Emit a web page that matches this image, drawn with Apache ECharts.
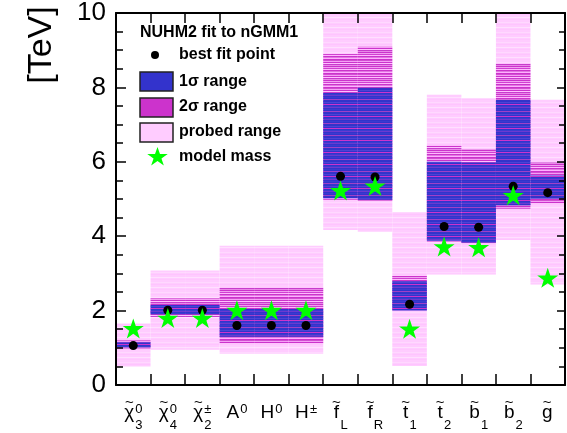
<!DOCTYPE html>
<html><head><meta charset="utf-8">
<script src="https://cdn.jsdelivr.net/npm/echarts@6/dist/echarts.min.js"></script>
<style>html,body{margin:0;padding:0;background:#fff}#c{width:567px;height:433px}</style>
</head><body><div id="c"></div>
<script>
// ---- data ----
const categories = ['chi3','chi4','chi2pm','A0','H0','Hpm','fL','fR','t1','t2','b1','b2','g'];
const labelBase  = ['χ','χ','χ','A','H','H','f','f','t','t','b','b','g'];
const labelTilde = [true,true,true,false,false,false,true,true,true,true,true,true,true];
const labelSup   = ['0','0','±','0','0','±','','','','','','',''];
const labelSub   = ['3','4','2','','','','L','R','1','2','1','2',''];
const yTicks = [0,2,4,6,8,10];

const probedLow  = [0.50,0.95,0.95,0.84,0.84,0.84,4.17,4.12,0.51,2.97,2.97,3.90,2.70];
const probedHigh = [1.65,3.08,3.08,3.74,3.74,3.74,10.0,10.0,4.65,7.80,7.71,9.97,7.67];
const sigma2Low  = [0.98,1.83,1.83,1.11,1.11,1.11,4.98,4.95,1.99,3.86,3.81,4.74,4.87];
const sigma2High = [1.20,2.33,2.33,2.63,2.63,2.63,8.90,9.09,2.93,6.43,6.34,8.64,5.98];
const sigma1Low  = [1.01,1.90,1.90,1.30,1.30,1.30,5.02,4.98,2.00,3.88,3.83,4.83,5.01];
const sigma1High = [1.15,2.15,2.15,2.05,2.05,2.05,7.85,8.00,2.79,6.00,5.98,7.67,5.63];
const bestFit    = [1.06,2.01,2.01,1.60,1.60,1.60,5.61,5.59,2.17,4.26,4.24,5.34,5.17];
const modelMass  = [1.52,1.80,1.80,2.01,2.01,2.01,5.23,5.35,1.51,3.72,3.70,5.10,2.88];

// ---- styling helpers ----
const FONT = '"Liberation Sans", Arial, Helvetica, sans-serif';
function stripePattern(rows){
  const c = document.createElement('canvas'); c.width = 4; c.height = rows.length;
  const x = c.getContext('2d');
  rows.forEach((col,k)=>{ x.fillStyle = col; x.fillRect(0,k,4,1); });
  return {image: c, repeat: 'repeat'};
}
const probedFill = stripePattern(['#ffccff','#ffccff','#ffd8ff','#ffccff','#ffc4ff','#ffccff','#ffccff','#ffe0ff','#ffccff','#ffc6ff']);
const sigma2Fill = stripePattern(['#cc33cc','#e07ae0','#ffb0ff','#cc33cc','#d24fd2','#f5a0f5','#cc33cc','#ffc0ff','#c83ccc','#e888e8','#cc33cc','#f0a0f0','#d040d0','#ffb8ff']);
const sigma1Fill = stripePattern(['#3333cc','#3a3ad0','#3333cc','#a040c8','#3535c8','#3333cc','#4a45d5','#3333cc','#cc33cc','#3333cc','#3c3cd0','#6a3ad0']);

const STAR = 'M50,0 L61.8,35.1 L98.9,35.1 L68.8,56.9 L80.2,91.9 L50,70.2 L19.8,91.9 L31.2,56.9 L1.1,35.1 L38.2,35.1 Z';
const STAR_PTS = [[50,0],[61.8,35.1],[98.9,35.1],[68.8,56.9],[80.2,91.9],[50,70.2],[19.8,91.9],[31.2,56.9],[1.1,35.1],[38.2,35.1]];

const BASE_PX = 19, SMALL_PX = 13;
const mctx = document.createElement('canvas').getContext('2d');
function tw(t, f){ mctx.font = f; return mctx.measureText(t).width; }
const rich = {};
labelBase.forEach((b,i)=>{
  const bw = Math.ceil(tw(b, BASE_PX + 'px ' + FONT)) + 1;
  const sw = Math.max(1, Math.ceil(Math.max(tw(labelSup[i], SMALL_PX + 'px ' + FONT), tw(labelSub[i], SMALL_PX + 'px ' + FONT))));
  rich['t'+i] = {fontSize:15, fontFamily:FONT, color:'#000', width:bw, align:'center', lineHeight:4};
  rich['q'+i] = {fontSize:12, fontFamily:FONT, width:sw, lineHeight:4};
  rich['b'+i] = {fontSize:BASE_PX, fontFamily:FONT, color:'#000', width:bw, align:'right', lineHeight:15};
  rich['u'+i] = {fontSize:SMALL_PX, fontFamily:FONT, color:'#000', width:sw, align:'left', lineHeight:8, padding:[0,0,6,0]};
  rich['p'+i] = {fontSize:SMALL_PX, fontFamily:FONT, width:bw, lineHeight:10};
  rich['d'+i] = {fontSize:SMALL_PX, fontFamily:FONT, color:'#000', width:sw, align:'left', lineHeight:10};
});

function band(lo, hi, fill, z, name){
  return {
    type:'custom', name, z,
    data: categories.map((c,i)=>[i, lo[i], hi[i]]),
    encode:{x:0, y:[1,2]},
    renderItem(params, api){
      const i = api.value(0);
      const a = api.coord([i, api.value(1)]);
      const b = api.coord([i, api.value(2)]);
      const w = api.size([1,0])[0];
      return {type:'rect', shape:{x:a[0]-w/2, y:b[1], width:w, height:a[1]-b[1]}, style:{fill}};
    }
  };
}

const axisLineStyle = {color:'#000', width:2};
const chart = echarts.init(document.getElementById('c'), null, {renderer:'canvas'});
chart.setOption({
  animation:false,
  textStyle:{fontFamily:FONT},
  grid:{left:116, right:2, top:9, bottom:48, containLabel:false},
  xAxis:[{
    type:'category', data:categories, position:'bottom', boundaryGap:true, z:10,
    axisLine:{show:true, onZero:false, lineStyle:axisLineStyle},
    axisTick:{show:true, inside:true, length:11, interval:0, lineStyle:{color:'#000', width:1.5}},
    axisLabel:{interval:0, margin:16, color:'#000', rich,
      formatter:(v,i)=>`{t${i}|${labelTilde[i]?'~':' '}}{q${i}| }\n{b${i}|${labelBase[i]}}{u${i}|${labelSup[i]||' '}}\n{p${i}| }{d${i}|${labelSub[i]||' '}}`},
    splitLine:{show:false}
  },{
    type:'category', data:categories, position:'top', boundaryGap:true, z:10,
    axisLine:{show:true, onZero:false, lineStyle:axisLineStyle},
    axisTick:{show:true, inside:true, length:10, interval:0, lineStyle:{color:'#000', width:1.5}},
    axisLabel:{show:false}, splitLine:{show:false}
  }],
  yAxis:[{
    type:'value', min:0, max:10, interval:2, position:'left', z:10,
    axisLine:{show:true, lineStyle:axisLineStyle},
    axisTick:{show:true, inside:true, length:10, lineStyle:{color:'#000', width:1.5}},
    minorTick:{show:true, splitNumber:4, length:7, lineStyle:{color:'#000', width:1.5}},
    axisLabel:{color:'#000', fontSize:26, fontFamily:FONT, margin:10,
      formatter:v=> yTicks.includes(v) ? String(v) : ''},
    splitLine:{show:false}, minorSplitLine:{show:false}
  },{
    type:'value', min:0, max:10, interval:2, position:'right', z:10,
    axisLine:{show:true, lineStyle:axisLineStyle},
    axisTick:{show:true, inside:true, length:8, lineStyle:{color:'#000', width:1.5}},
    minorTick:{show:true, splitNumber:4, length:6, lineStyle:{color:'#000', width:1.5}},
    axisLabel:{show:false}, splitLine:{show:false}
  }],
  series:[
    band(probedLow, probedHigh, probedFill, 1, 'probed range'),
    band(sigma2Low, sigma2High, sigma2Fill, 2, '2σ range'),
    band(sigma1Low, sigma1High, sigma1Fill, 3, '1σ range'),
    {type:'scatter', name:'best fit point', z:4, symbol:'circle', symbolSize:9,
     itemStyle:{color:'#000', opacity:1}, data:bestFit.map((v,i)=>[i,v])},
    {type:'scatter', name:'model mass', z:5, symbol:'path://'+STAR, symbolSize:[21,20],
     itemStyle:{color:'#00ff00', opacity:1}, data:modelMass.map((v,i)=>[i,v])}
  ],
  graphic:[
    {type:'text', x:42, y:45, rotation:Math.PI/2, z:20,
     style:{text:'[TeV]', font:'34px ' + FONT, fill:'#000', align:'center', verticalAlign:'middle'}},
    {type:'text', x:140, y:33, z:20, style:{text:'NUHM2 fit to nGMM1', font:'bold 16px ' + FONT, fill:'#000', verticalAlign:'middle'}},
    {type:'circle', shape:{cx:155, cy:55, r:4}, z:20, style:{fill:'#000'}},
    {type:'text', x:179, y:55, z:20, style:{text:'best fit point', font:'bold 16px ' + FONT, fill:'#000', verticalAlign:'middle'}},
    {type:'rect', shape:{x:140, y:72, width:33, height:19}, z:20, style:{fill:'#3333cc', stroke:'#222', lineWidth:1.5}},
    {type:'text', x:179, y:82, z:20, style:{text:'1σ range', font:'bold 16px ' + FONT, fill:'#000', verticalAlign:'middle'}},
    {type:'rect', shape:{x:140, y:98, width:33, height:19}, z:20, style:{fill:'#cc33cc', stroke:'#222', lineWidth:1.5}},
    {type:'text', x:179, y:107, z:20, style:{text:'2σ range', font:'bold 16px ' + FONT, fill:'#000', verticalAlign:'middle'}},
    {type:'rect', shape:{x:140, y:123, width:33, height:19}, z:20, style:{fill:'#ffccff', stroke:'#222', lineWidth:1.5}},
    {type:'text', x:179, y:132, z:20, style:{text:'probed range', font:'bold 16px ' + FONT, fill:'#000', verticalAlign:'middle'}},
    {type:'polygon', z:20, shape:{points:STAR_PTS.map(p=>[147+p[0]*0.21, 147+p[1]*0.2])}, style:{fill:'#00ff00'}},
    {type:'text', x:179, y:157, z:20, style:{text:'model mass', font:'bold 16px ' + FONT, fill:'#000', verticalAlign:'middle'}}
  ]
});
</script></body></html>
